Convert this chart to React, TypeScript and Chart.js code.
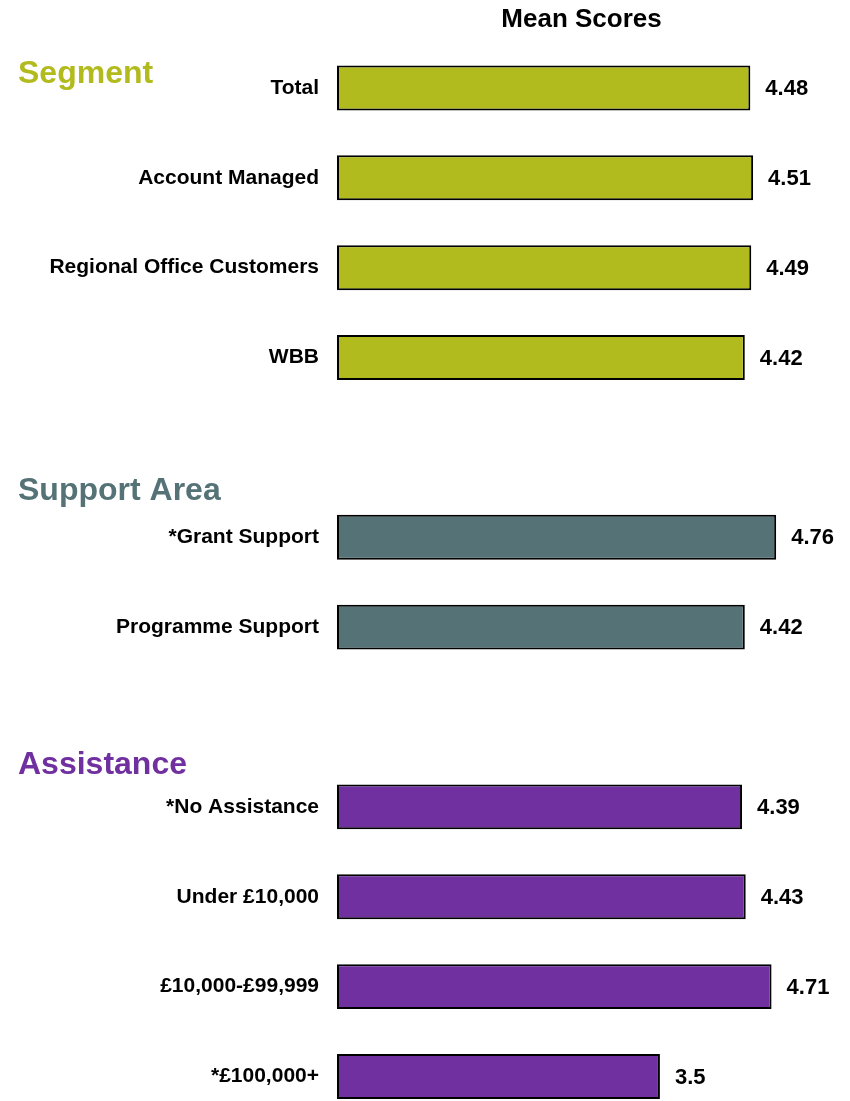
import React, { useEffect, useRef } from "react";
import { Chart, registerables } from "chart.js";

Chart.register(...registerables);

const categories = [
  "Total",
  "Account Managed",
  "Regional Office Customers",
  "WBB",
  "",
  "*Grant Support",
  "Programme Support",
  "",
  "*No Assistance",
  "Under £10,000",
  "£10,000-£99,999",
  "*£100,000+",
];

const meanScores: (number | null)[] = [4.48, 4.51, 4.49, 4.42, null, 4.76, 4.42, null, 4.39, 4.43, 4.71, 3.5];

const SEGMENT_COLOR = "#B2BB1E";
const SUPPORT_COLOR = "#557277";
const ASSIST_COLOR = "#7030A0";

const barColors = [
  SEGMENT_COLOR, SEGMENT_COLOR, SEGMENT_COLOR, SEGMENT_COLOR, SEGMENT_COLOR,
  SUPPORT_COLOR, SUPPORT_COLOR, SUPPORT_COLOR,
  ASSIST_COLOR, ASSIST_COLOR, ASSIST_COLOR, ASSIST_COLOR,
];

const groupHeaders = ["Segment", "Support Area", "Assistance"];
const groupHeaderColors = [SEGMENT_COLOR, SUPPORT_COLOR, ASSIST_COLOR];
// layout: anchor slot index and pixel offset of the header baseline
const groupHeaderAnchors = [0, 4, 7];
const groupHeaderOffsets = [-5, 53, 57];

const chartTitle = "Mean Scores";

const FONT = "'Liberation Sans', Arial, sans-serif";

const overlayPlugin = {
  id: "overlay",
  afterDatasetsDraw(chart: any) {
    const ctx = chart.ctx;
    const area = chart.chartArea;
    const yScale = chart.scales.y;
    ctx.save();
    // title
    ctx.font = `bold 26px ${FONT}`;
    ctx.fillStyle = "#000";
    ctx.textAlign = "center";
    ctx.textBaseline = "alphabetic";
    ctx.fillText(chartTitle, (area.left + area.right) / 2, area.top - 16);

    // group headers
    ctx.font = `bold 32px ${FONT}`;
    ctx.textAlign = "left";
    groupHeaders.forEach((h, i) => {
      const y = yScale.getPixelForValue(groupHeaderAnchors[i]) + groupHeaderOffsets[i];
      ctx.fillStyle = groupHeaderColors[i];
      ctx.fillText(h, 10, y);
    });

    // value labels
    ctx.font = `bold 22px ${FONT}`;
    ctx.fillStyle = "#000";
    ctx.textBaseline = "middle";
    const meta = chart.getDatasetMeta(0);
    meta.data.forEach((bar: any, i: number) => {
      const v = meanScores[i];
      if (v === null || v === undefined) return;
      ctx.fillText(String(v), bar.x + 15, bar.y + 1);
    });
    ctx.restore();
  },
};

export default function App() {
  const canvasRef = useRef<HTMLCanvasElement | null>(null);

  useEffect(() => {
    if (!canvasRef.current) return;
    const chart = new Chart(canvasRef.current, {
      type: "bar",
      data: {
        labels: categories,
        datasets: [
          {
            data: meanScores,
            backgroundColor: barColors,
            borderColor: "#000",
            borderWidth: 2,
            borderSkipped: false,
            categoryPercentage: 1,
            barPercentage: 0.5,
          },
        ],
      },
      options: {
        indexAxis: "y",
        animation: false,
        responsive: false,
        maintainAspectRatio: false,
        layout: { padding: { top: 35, bottom: 5, left: 0, right: 16 } },
        plugins: {
          legend: { display: false },
          title: { display: false },
          tooltip: { enabled: false },
        },
        scales: {
          x: {
            display: false,
            min: 0,
            max: 5.3,
          },
          y: {
            afterFit(scale: any) {
              scale.width = 329;
            },
            grid: { display: false, drawTicks: false },
            border: { display: false },
            ticks: {
              padding: 18,
              color: "#000",
              font: { family: FONT, size: 21, weight: "bold" },
            },
          },
        },
      },
      plugins: [overlayPlugin],
    });
    return () => chart.destroy();
  }, []);

  return (
    <div style={{ width: 834, height: 1144 }}>
      <canvas ref={canvasRef} width={834} height={1144} style={{ display: "block" }} />
    </div>
  );
}
